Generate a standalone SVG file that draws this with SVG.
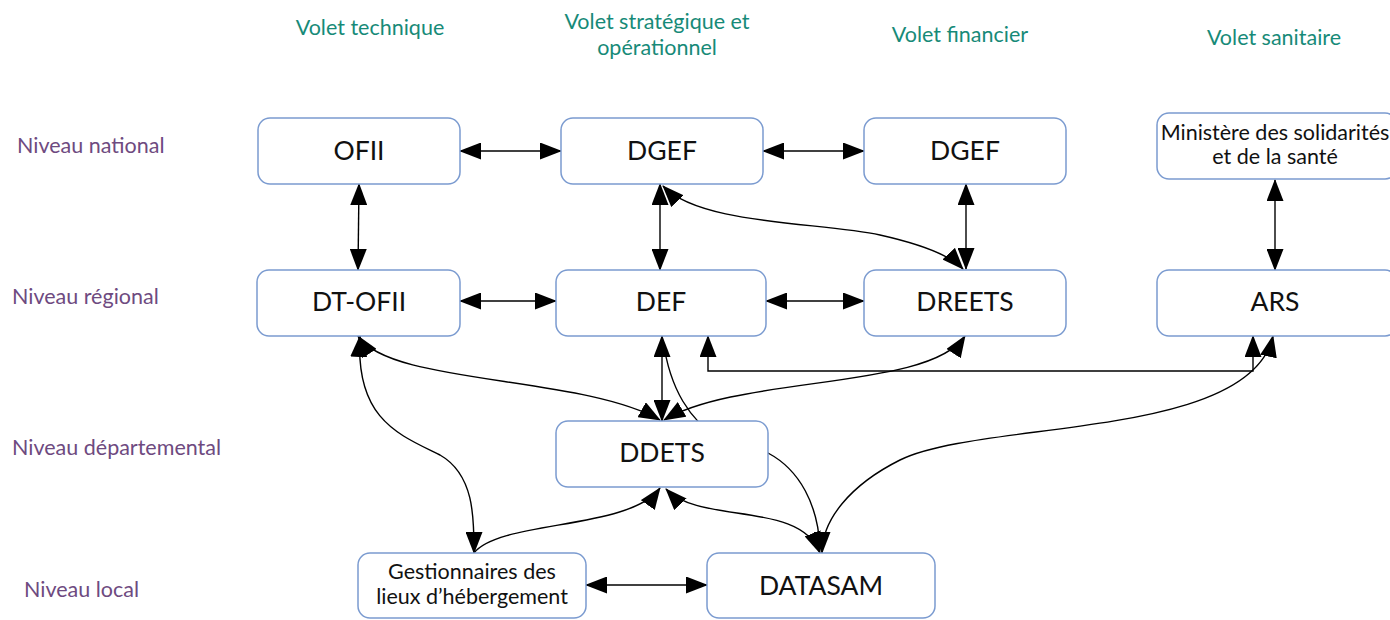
<svg xmlns="http://www.w3.org/2000/svg" width="1390" height="620" viewBox="0 0 1390 620">
<style>
.node rect{fill:#fff;stroke:#7b9bd0;stroke-width:1.5}
.lbl{font-family:Lato,"Open Sans",sans-serif;fill:#111;text-anchor:middle}
.big{font-size:26.5px}
.small{font-size:21.5px}
.head{font-family:Lato,"Open Sans",sans-serif;font-size:21.5px;fill:#178a78;text-anchor:middle}
.row{font-family:Lato,"Open Sans",sans-serif;font-size:21.5px;fill:#6e4a80}
.c{fill:none;stroke:#000;stroke-width:1.4}
</style>
<defs>
<marker id="ah" viewBox="0 0 22 17" refX="21" refY="8.5" markerWidth="22" markerHeight="17" markerUnits="userSpaceOnUse" orient="auto-start-reverse">
<path d="M0,0 L22,8.5 L0,17 z" fill="#000"/>
</marker>
</defs>
<g id="headers">
<text class="head" x="370" y="35">Volet technique</text>
<text class="head" x="657" y="29">Volet stratégique et</text>
<text class="head" x="657" y="55">opérationnel</text>
<text class="head" x="960" y="42">Volet financier</text>
<text class="head" x="1274" y="45">Volet sanitaire</text>
</g>
<g id="rows">
<text class="row" x="17" y="153">Niveau national</text>
<text class="row" x="12" y="304">Niveau régional</text>
<text class="row" x="12" y="455">Niveau départemental</text>
<text class="row" x="24" y="597">Niveau local</text>
</g>
<g id="connectors">
<line class="c" x1="460" y1="151" x2="561" y2="151" marker-start="url(#ah)" marker-end="url(#ah)"/>
<line class="c" x1="763" y1="151" x2="864" y2="151" marker-start="url(#ah)" marker-end="url(#ah)"/>
<line class="c" x1="359" y1="184" x2="358" y2="270" marker-start="url(#ah)" marker-end="url(#ah)"/>
<line class="c" x1="660" y1="184" x2="660" y2="270" marker-start="url(#ah)" marker-end="url(#ah)"/>
<line class="c" x1="966" y1="184" x2="966" y2="269" marker-start="url(#ah)" marker-end="url(#ah)"/>
<path class="c" d="M663,186 C700,225 820,222 880,235 C920,244 950,255 963,269" marker-start="url(#ah)" marker-end="url(#ah)"/>
<line class="c" x1="1275" y1="180" x2="1275" y2="270" marker-start="url(#ah)" marker-end="url(#ah)"/>
<line class="c" x1="460" y1="301" x2="556" y2="301" marker-start="url(#ah)" marker-end="url(#ah)"/>
<line class="c" x1="766" y1="301" x2="864" y2="301" marker-start="url(#ah)" marker-end="url(#ah)"/>
<line class="c" x1="662" y1="336" x2="662" y2="421" marker-start="url(#ah)" marker-end="url(#ah)"/>
<path class="c" d="M708,336 L708,371 L1253,371 L1253,336" marker-start="url(#ah)" marker-end="url(#ah)"/>
<path class="c" d="M663,340 C670,390 690,420 720,440 L768,453 C800,470 818,505 820,548"/>
<path class="c" d="M358,336 C390,385 580,375 660,420" marker-start="url(#ah)" marker-end="url(#ah)"/>
<path class="c" d="M965,336 C930,390 740,375 664,420" marker-start="url(#ah)" marker-end="url(#ah)"/>
<path class="c" d="M360,336 C355,420 400,435 440,455 C475,475 474,520 474,553" marker-start="url(#ah)" marker-end="url(#ah)"/>
<path class="c" d="M474,553 C500,520 630,530 660,488" marker-end="url(#ah)"/>
<path class="c" d="M666,489 C700,525 800,500 820,553" marker-start="url(#ah)" marker-end="url(#ah)"/>
<path class="c" d="M1273,336 C1250,440 980,420 900,460 C850,485 822,520 822,553" marker-start="url(#ah)" marker-end="url(#ah)"/>
<line class="c" x1="586" y1="585" x2="707" y2="585" marker-start="url(#ah)" marker-end="url(#ah)"/>
</g>
<g id="OFII" class="node"><rect x="258" y="118" width="202" height="66" rx="12"/><text class="lbl big" x="359" y="160">OFII</text></g>
<g id="DGEF1" class="node"><rect x="561" y="118" width="202" height="66" rx="12"/><text class="lbl big" x="662" y="160">DGEF</text></g>
<g id="DGEF2" class="node"><rect x="864" y="118" width="202" height="66" rx="12"/><text class="lbl big" x="965" y="160">DGEF</text></g>
<g id="Ministere" class="node"><rect x="1157" y="113" width="240" height="66" rx="12"/><text class="lbl small" x="1275" y="140">Ministère des solidarités</text><text class="lbl small" x="1275" y="164">et de la santé</text></g>
<g id="DT-OFII" class="node"><rect x="257" y="270" width="203" height="66" rx="12"/><text class="lbl big" x="359" y="311">DT-OFII</text></g>
<g id="DEF" class="node"><rect x="556" y="270" width="210" height="66" rx="12"/><text class="lbl big" x="661" y="311">DEF</text></g>
<g id="DREETS" class="node"><rect x="864" y="270" width="202" height="66" rx="12"/><text class="lbl big" x="965" y="311">DREETS</text></g>
<g id="ARS" class="node"><rect x="1157" y="270" width="240" height="66" rx="12"/><text class="lbl big" x="1275" y="311">ARS</text></g>
<g id="DDETS" class="node"><rect x="556" y="421" width="212" height="66" rx="12"/><text class="lbl big" x="662" y="462">DDETS</text></g>
<g id="Gestionnaires" class="node"><rect x="358" y="553" width="228" height="65" rx="12"/><text class="lbl small" x="472" y="579">Gestionnaires des</text><text class="lbl small" x="472" y="604">lieux d’hébergement</text></g>
<g id="DATASAM" class="node"><rect x="707" y="553" width="228" height="65" rx="12"/><text class="lbl big" x="821" y="595">DATASAM</text></g>
</svg>
